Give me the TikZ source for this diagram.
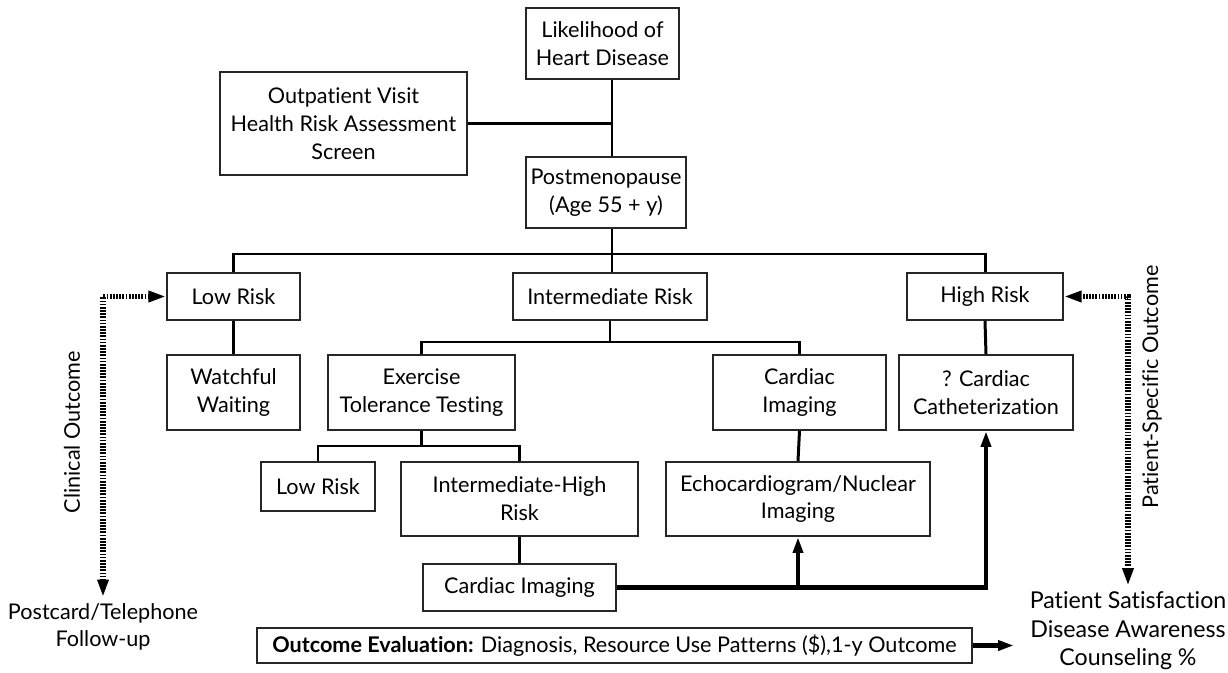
\documentclass[tikz,border=0pt]{standalone}
\usepackage{fontspec}
\setmainfont{Lato}[Ligatures=NoCommon]
\usetikzlibrary{arrows.meta}

\begin{document}
\begin{tikzpicture}[
    x=0.02cm, y=-0.02cm,
    font=\fontsize{12.3}{15.8}\selectfont,
    block/.style={rectangle, draw=black!85, line width=1.1pt, align=center, inner sep=2pt},
    link/.style={line width=1.7pt},
    arrow/.style={-{Triangle[length=9pt,width=5.5pt]}, line width=2.6pt},
    dots/.style={{Triangle[length=10pt,width=6pt]}-{Triangle[length=10pt,width=6pt]}, line width=3pt, dash pattern=on 1pt off 0.8pt}
]
\useasboundingbox (0,0) rectangle (1228,673);

\node[block, minimum width=3.06cm, minimum height=1.42cm] (lik) at (602.5,43.5) {Likelihood of\\Heart Disease};
\node[block, minimum width=4.94cm, minimum height=2.06cm] (visit) at (343.5,123.5) {Outpatient Visit\\Health Risk Assessment\\Screen};
\node[block, minimum width=3.2cm, minimum height=1.42cm] (meno) at (606,192.5) {Postmenopause\\(Age 55 + y)};

\node[block, minimum width=2.66cm, minimum height=0.94cm] (low) at (233.5,296.5) {Low Risk};
\node[block, minimum width=3.88cm, minimum height=0.94cm] (mid) at (610,296.5) {Intermediate Risk};
\node[block, minimum width=3.12cm, minimum height=0.94cm] (high) at (985,296.5) {High Risk};

\node[block, minimum width=2.66cm, minimum height=1.5cm] (wait) at (233.5,392.5) {Watchful\\Waiting};
\node[block, minimum width=3.74cm, minimum height=1.5cm] (ett) at (421.5,392.5) {Exercise\\Tolerance Testing};
\node[block, minimum width=3.46cm, minimum height=1.5cm] (cimg) at (799.5,392.5) {Cardiac\\Imaging};
\node[block, minimum width=3.48cm, minimum height=1.5cm] (cath) at (986,392.5) {? Cardiac\\Catheterization};

\node[block, minimum width=2.28cm, minimum height=0.98cm] (low2) at (318,486.5) {Low Risk};
\node[block, minimum width=4.74cm, minimum height=1.48cm] (ihr) at (519.5,499) {Intermediate-High\\Risk};
\node[block, minimum width=5.28cm, minimum height=1.48cm] (echo) at (798,499) {Echocardiogram/Nuclear\\Imaging};
\node[block, minimum width=3.86cm, minimum height=0.94cm] (cimg2) at (519.5,587.5) {Cardiac Imaging};

\node[block, minimum width=14.3cm, minimum height=0.7cm] (eval) at (614.5,645.5) {\textbf{Outcome Evaluation:} Diagnosis, Resource Use Patterns (\$),1-y Outcome};

\node[align=center] (post) at (103,627) {Postcard/Telephone\\Follow-up};
\node[align=center, font=\fontsize{13.2}{16.2}\selectfont] (sat) at (1128,631) {Patient Satisfaction\\Disease Awareness\\Counseling \%};
\node[rotate=90] (clin) at (72,432) {Clinical Outcome};
\node[rotate=90] (pso) at (1152,387) {Patient-Specific Outcome};

\coordinate (trunk) at (612,121);
\coordinate (bus) at (0,254);
\coordinate (sub) at (0,342);
\coordinate (sub2) at (0,446);
\coordinate (evalend) at (1014,645.5);

% tree
\draw[link] (lik.south -| trunk) -- (meno.north -| trunk);
\draw[link] (visit.east) -- (visit.east -| trunk);
\draw[link] (meno.south -| trunk) -- (mid.north -| trunk);
\draw[link] (low.north) |- (high.north |- bus) -- (high.north);
\draw[link] (low.south) -- (wait.north);
\draw[link] (high.south) -- (cath.north);
\draw[link] (mid.south) -- (mid.south |- sub);
\draw[link] (ett.north) |- (cimg.north |- sub) -- (cimg.north);
\draw[link] (ett.south) -- (ett.south |- sub2);
\draw[link] (low2.north) |- (ihr.north |- sub2) -- (ihr.north);
\draw[link] (ihr.south) -- (cimg2.north);
\draw[link] (cimg.south) -- (echo.north);

% imaging paths
\draw[arrow] (cimg2.east) -| (cath.south);
\draw[arrow] (cimg2.east -| echo.south) -- (echo.south);
\draw[arrow] (eval.east) -- (evalend);

% outcomes
\draw[dots] (post.north) |- (low.west);
\draw[dots] (sat.north) |- (high.east);
\end{tikzpicture}
\end{document}
